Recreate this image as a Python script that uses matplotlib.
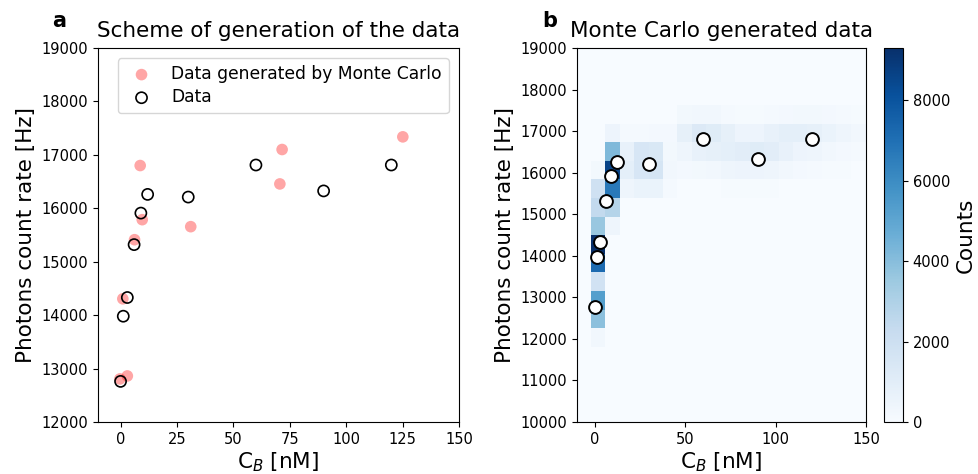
import numpy as np
import matplotlib
matplotlib.use("Agg")
import matplotlib.pyplot as plt

# ---- data ----
data_x = [0, 1.2, 3, 6, 9, 12, 30, 60, 90, 120]
data_y = [12760, 13980, 14330, 15320, 15910, 16260, 16210, 16810, 16325, 16810]

mc_x = [-0.3, 3.0, 1.0, 6.2, 9.6, 8.7, 31.1, 70.6, 71.6, 125.1]
mc_y = [12806, 12862, 14306, 15412, 15787, 16800, 15656, 16456, 17100, 17337]

# 2D histogram of Monte Carlo generated data
x_edges = [-2.4 + 8 * k for k in range(21)]
y_edges = [11806 + 448 * k for k in range(14)]
# rows: bottom (11806) to top; columns: c0..c19
counts = [
    # c0    c1    c2    c3    c4   c5   c6   c7    c8    c9   c10   c11   c12  c13  c14  c15  c16  c17  c18  c19
    [300,    0,    0,    0,    0,   0,   0,   0,    0,    0,    0,    0,    0,   0,   0,   0,   0,   0,   0,   0],  # r0
    [3900,   0,    0,    0,    0,   0,   0,   0,    0,    0,    0,    0,    0,   0,   0,   0,   0,   0,   0,   0],  # r1
    [5300,   0,    0,    0,    0,   0,   0,   0,    0,    0,    0,    0,    0,   0,   0,   0,   0,   0,   0,   0],  # r2
    [1800,   0,    0,    0,    0,   0,   0,   0,    0,    0,    0,    0,    0,   0,   0,   0,   0,   0,   0,   0],  # r3
    [7200,   0,    0,    0,    0,   0,   0,   0,    0,    0,    0,    0,    0,   0,   0,   0,   0,   0,   0,   0],  # r4
    [9300,   0,    0,    0,    0,   0,   0,   0,    0,    0,    0,    0,    0,   0,   0,   0,   0,   0,   0,   0],  # r5
    [3600, 400,    0,    0,    0,   0,   0,   0,    0,    0,    0,    0,    0,   0,   0,   0,   0,   0,   0,   0],  # r6
    [2400, 2800,   0,    0,    0,   0,   0,   0,    0,    0,    0,    0,    0,   0,   0,   0,   0,   0,   0,   0],  # r7
    [1900, 6700, 400,  600,  600, 150,   0,   0,    0,  100,  100,  100,  100,   0,   0,   0,   0,   0,   0,   0],  # r8
    [250,  8600, 900, 1500, 1600, 300, 200, 250,  300,  400,  500,  500,  400, 300, 200, 150, 100, 100,   0,   0],  # r9
    [0,    4200, 700, 1500, 1400, 250, 400, 700,  800,  900, 1000, 1100, 1000, 700, 500, 400, 300, 200, 150,   0],  # r10
    [0,     500, 150,  150,  200, 200, 800, 1300, 1100, 800,  500,  500,  700, 900, 900, 800, 600, 400, 300, 200],  # r11
    [0,       0,   0,    0,    0,   0, 250, 300,  300, 150,  100,  100,  150, 200, 250, 250, 200, 150, 100,   0],  # r12
]

x_ticks_a = [0, 25, 50, 75, 100, 125, 150]
x_ticks_b = [0, 50, 100, 150]
cbar_ticks = [0, 2000, 4000, 6000, 8000]

# ---- figure ----
fig = plt.figure(figsize=(9.79, 4.74), dpi=100)
W, H = 979, 474

def box(l, t, r, b):
    return [l / W, 1 - b / H, (r - l) / W, (b - t) / H]

ax1 = fig.add_axes(box(98, 48, 459, 422))
ax2 = fig.add_axes(box(577, 48, 866, 422))
cax = fig.add_axes(box(884, 48, 903, 422))

tick_fs = 10.5
label_fs = 15.5
title_fs = 15.5

# Panel a
ax1.scatter(mc_x, mc_y, s=70, color='red', alpha=0.35, edgecolors='none',
            label='Data generated by Monte Carlo', zorder=2)
ax1.scatter(data_x, data_y, s=64, facecolors='none', edgecolors='black',
            linewidths=1.2, label='Data', zorder=3)
ax1.set_xlim(-10, 150)
ax1.set_ylim(12000, 19000)
ax1.set_xticks(x_ticks_a)
ax1.set_xlabel(r'C$_B$ [nM]', fontsize=label_fs, labelpad=3)
ax1.set_ylabel('Photons count rate [Hz]', fontsize=label_fs)
ax1.set_title('Scheme of generation of the data', fontsize=title_fs, pad=8)
ax1.tick_params(labelsize=tick_fs)
ax1.legend(loc='upper right', fontsize=12.3, handletextpad=0.75, labelspacing=0.3,
           borderaxespad=0.6)
ax1.text(-0.127, 1.055, 'a', transform=ax1.transAxes, fontsize=15, fontweight='bold')

# Panel b
cmap = plt.get_cmap('Blues')
ax2.set_facecolor(cmap(0.0))
mesh = ax2.pcolormesh(x_edges, y_edges, np.array(counts), cmap=cmap, vmin=0, vmax=9300)
ax2.scatter(data_x, data_y, s=85, facecolors='white', edgecolors='black',
            linewidths=1.4, zorder=3)
ax2.set_xlim(-10, 150)
ax2.set_ylim(10000, 19000)
ax2.set_xticks(x_ticks_b)
ax2.set_xlabel(r'C$_B$ [nM]', fontsize=label_fs, labelpad=3)
ax2.set_ylabel('Photons count rate [Hz]', fontsize=label_fs)
ax2.set_title('Monte Carlo generated data', fontsize=title_fs, pad=8)
ax2.tick_params(labelsize=tick_fs)
ax2.text(-0.121, 1.055, 'b', transform=ax2.transAxes, fontsize=15, fontweight='bold')

cb = fig.colorbar(mesh, cax=cax, ticks=cbar_ticks)
cb.set_label('Counts', fontsize=label_fs)
cb.ax.tick_params(labelsize=tick_fs)

fig.savefig('out.png', dpi=100)
